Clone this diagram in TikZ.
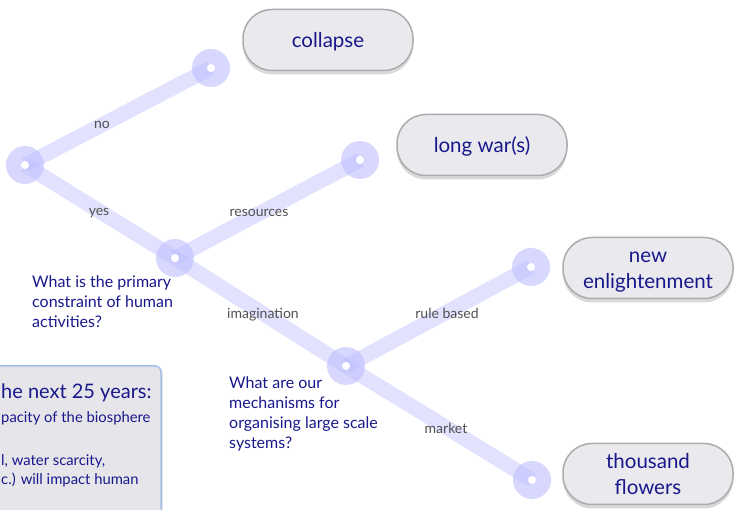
\documentclass[tikz,border=0pt]{standalone}
\usepackage{fontspec}
\setmainfont{Lato}
\usetikzlibrary{shadows}
\definecolor{qblue}{RGB}{24,24,140}
\definecolor{pblue}{RGB}{190,190,255}
\definecolor{boxfill}{RGB}{234,234,238}
\definecolor{boxline}{RGB}{172,172,172}
\definecolor{lbl}{RGB}{80,80,80}
\definecolor{notefill}{RGB}{230,230,234}
\definecolor{noteline}{RGB}{165,190,232}
\begin{document}
\begin{tikzpicture}[x=1pt,y=-1pt,
  branch/.style={line width=15pt, draw=pblue, draw opacity=0.45},
  dot/.style={circle, minimum size=38pt, inner sep=0pt},
  disc/.style={fill=pblue, fill opacity=0.6},
  outcome/.style={rounded corners=29pt, draw=boxline, line width=1.5pt, fill=boxfill,
    minimum width=170pt, minimum height=61pt,
    drop shadow={shadow xshift=0pt, shadow yshift=-4pt, opacity=0.3}},
  otext/.style={text=qblue, align=center, inner sep=0pt,
    font=\fontsize{20.5}{25.5}\selectfont},
  lab/.style={text=lbl, font=\fontsize{14}{16}\selectfont, inner sep=0pt},
  question/.style={text=qblue, align=left, anchor=north west, inner sep=0pt,
    font=\fontsize{16}{20}\selectfont},
  note/.style={text=qblue, anchor=base west, inner sep=0pt, font=\fontsize{14.8}{18}\selectfont}
]
\useasboundingbox (0,0) rectangle (734,510);
\clip (0,0) rectangle (734,510);

% note box (cut off at left and bottom)
\draw[rounded corners=6pt, draw=noteline, line width=1.5pt, fill=notefill,
  drop shadow={shadow xshift=2pt, shadow yshift=-2pt, opacity=0.2}]
  (-20,366) rectangle (161,540);
\node[note, font=\fontsize{20}{24}\selectfont] (n1) at (1,399) {he next 25 years:};
\node[note] (n2) at (1,423) {pacity of the biosphere};
\node[note] (n3) at (1,466) {l, water scarcity,};
\node[note] (n4) at (1,485) {c.) will impact human};

% decision points
\node[dot] (c0) at (25,165) {};
\node[dot] (c1) at (211,68) {};
\node[dot] (c2) at (175,258) {};
\node[dot] (c3) at (360,160) {};
\node[dot] (c4) at (346,366) {};
\node[dot] (c5) at (531,267) {};
\node[dot] (c6) at (532,480) {};

% branches
\draw[branch] (c0.center) -- (c1.center);
\draw[branch] (c0.center) -- (c2.center);
\draw[branch] (c2.center) -- (c3.center);
\draw[branch] (c2.center) -- (c4.center);
\draw[branch] (c4.center) -- (c5.center);
\draw[branch] (c4.center) -- (c6.center);

% discs with white centre
\foreach \c in {c0,c1,c2,c3,c4,c5,c6}{
  \fill[disc] (\c.center) circle (19pt);
  \fill[white] (\c.center) circle (4pt);
}

% branch labels
\node[lab] (l1) at (102,125) {no};
\node[lab] (l2) at (99,213) {yes};
\node[lab] (l3) at (259,213) {resources};
\node[lab] (l4) at (263,315) {imagination};
\node[lab] (l5) at (447,313) {rule based};
\node[lab] (l6) at (446,428) {market};

% questions
\node[question] (q1) at (32,276) {What is the primary\\constraint of human\\activities?};
\node[question] (q2) at (229,377) {What are our\\mechanisms for\\organising large scale\\systems?};

% outcomes
\node[outcome] (o1) at (328,40) {};
\node[otext] (t1) at ([yshift=-2pt]o1.center) {collapse};
\node[outcome] (o2) at (482,145) {};
\node[otext] (t2) at ([yshift=-1pt]o2.center) {long war(s)};
\node[outcome] (o3) at (648,268) {};
\node[otext] (t3) at ([yshift=-4pt]o3.center) {new\\enlightenment};
\node[outcome] (o4) at (648,474) {};
\node[otext] (t4) at (o4.center) {thousand\\flowers};
\end{tikzpicture}
\end{document}
